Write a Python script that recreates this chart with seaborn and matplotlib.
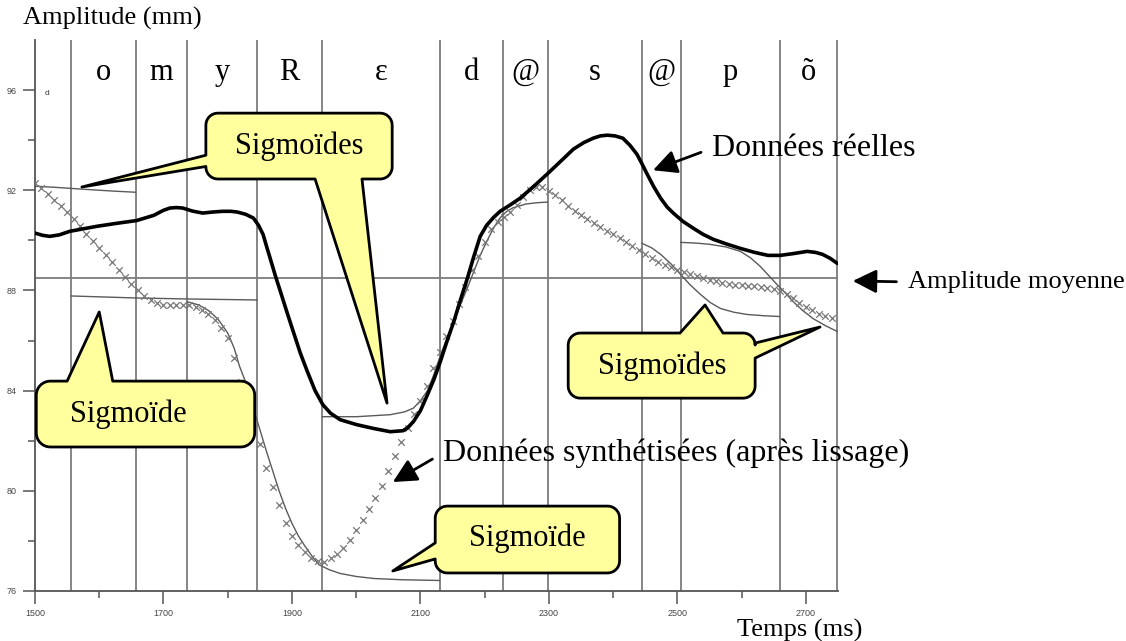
import numpy as np
import matplotlib
matplotlib.use("Agg")
import matplotlib.pyplot as plt
import seaborn as sns
from matplotlib.patches import Polygon
from matplotlib.transforms import IdentityTransform

# ---------------------------------------------------------------- data
# phoneme segmentation (ms) and labels
boundaries = [1556, 1657, 1737, 1846, 1947, 2130, 2228, 2298, 2445, 2505, 2659, 2749]
phonemes = ["o", "m", "y", "R", "ɛ", "d", "@", "s", "@", "p", "õ"]

# measured amplitude (mm)
real_t = [1500, 1512, 1523, 1538, 1554, 1575, 1596, 1627, 1658, 1685, 1700, 1710,
          1720, 1730, 1745, 1761, 1776, 1792, 1805, 1815, 1828, 1840, 1848, 1855,
          1860, 1866, 1874, 1882, 1892, 1902, 1913, 1924, 1936, 1948, 1960, 1975,
          2001, 2027, 2053, 2073, 2080, 2089, 2100, 2111, 2121, 2131, 2141, 2152,
          2162, 2173, 2183, 2193, 2203, 2214, 2224, 2240, 2255, 2276, 2297, 2318,
          2338, 2354, 2369, 2380, 2391, 2403, 2415, 2426, 2437, 2445, 2453, 2463,
          2474, 2484, 2494, 2509, 2525, 2540, 2556, 2577, 2598, 2620, 2641, 2660,
          2680, 2702, 2715, 2726, 2738, 2749]
real_v = [90.29, 90.20, 90.16, 90.22, 90.36, 90.46, 90.56, 90.68, 90.79, 91.00, 91.20, 91.29,
          91.31, 91.29, 91.17, 91.09, 91.13, 91.16, 91.16, 91.13, 91.04, 90.89, 90.60, 90.24,
          89.80, 89.29, 88.60, 87.96, 87.15, 86.36, 85.50, 84.76, 84.00, 83.44, 83.10, 82.84,
          82.64, 82.49, 82.36, 82.40, 82.52, 82.76, 83.20, 83.84, 84.45, 85.16, 85.95, 86.76,
          87.60, 88.48, 89.35, 90.16, 90.60, 90.92, 91.16, 91.42, 91.68, 92.15, 92.64, 93.15,
          93.64, 93.90, 94.08, 94.17, 94.20, 94.17, 94.08, 93.80, 93.44, 93.05, 92.64, 92.15,
          91.68, 91.33, 91.08, 90.75, 90.48, 90.24, 90.04, 89.85, 89.68, 89.52, 89.40, 89.40,
          89.47, 89.56, 89.52, 89.44, 89.28, 89.08]

# synthesised amplitude after smoothing, one sample every 10 ms from 1500 ms
synth_start, synth_step = 1500, 10
synth_v = [92.30, 92.10, 91.85, 91.63, 91.38, 91.13, 90.87, 90.57, 90.27, 89.99,
           89.70, 89.41, 89.12, 88.82, 88.54, 88.26, 88.00, 87.78, 87.60, 87.50,
           87.43, 87.40, 87.41, 87.43, 87.42, 87.33, 87.22, 87.06, 86.82, 86.50,
           86.10, 85.30, 84.35, 83.50, 82.70, 81.85, 80.90, 80.15, 79.45, 78.70,
           78.20, 77.85, 77.55, 77.30, 77.18, 77.17, 77.30, 77.47, 77.73, 78.03,
           78.42, 78.84, 79.27, 79.70, 80.20, 80.80, 81.38, 81.96, 82.50, 83.05,
           83.60, 84.20, 84.90, 85.55, 86.20, 86.80, 87.45, 88.15, 88.80, 89.36,
           89.95, 90.45, 90.72, 90.94, 91.15, 91.42, 91.75, 92.00, 92.15, 92.12,
           91.98, 91.82, 91.60, 91.37, 91.18, 91.00, 90.84, 90.69, 90.54, 90.39,
           90.24, 90.09, 89.94, 89.78, 89.62, 89.46, 89.30, 89.15, 89.03, 88.92,
           88.82, 88.72, 88.64, 88.57, 88.50, 88.43, 88.36, 88.30, 88.26, 88.23,
           88.21, 88.18, 88.16, 88.14, 88.11, 88.06, 87.98, 87.85, 87.68, 87.50,
           87.34, 87.20, 87.06, 86.98, 86.92]
synth_t = synth_start + synth_step * np.arange(len(synth_v))

# individual sigmoid segments
sig1_t = [1500, 1530, 1576, 1620, 1657]
sig1_v = [92.16, 92.12, 92.04, 91.97, 91.92]
sig2_t = [1556, 1657, 1737, 1846]
sig2_v = [87.78, 87.70, 87.66, 87.62]
sig3_t = [1737, 1755, 1770, 1785, 1800, 1810, 1818, 1830, 1840, 1850, 1860, 1870,
          1880, 1890, 1900, 1910, 1920, 1931, 1942, 1958, 1975, 2000, 2027, 2070, 2130]
sig3_v = [87.55, 87.42, 87.20, 86.85, 86.30, 85.70, 85.00, 84.20, 83.30, 82.45, 81.60, 80.80,
          80.00, 79.30, 78.70, 78.20, 77.80, 77.40, 77.05, 76.85, 76.70, 76.58, 76.50, 76.45, 76.42]
sig4_t = [1947, 2001, 2053, 2075, 2089, 2100, 2111, 2121, 2131, 2152, 2173, 2193,
          2204, 2214, 2224, 2234, 2244, 2264, 2280, 2298]
sig4_v = [82.96, 82.96, 83.04, 83.15, 83.30, 83.60, 84.00, 84.65, 85.40, 86.80, 88.10, 89.40,
          90.00, 90.50, 90.90, 91.15, 91.30, 91.45, 91.50, 91.53]
sig5_t = [2445, 2460, 2474, 2490, 2505, 2520, 2536, 2551, 2567, 2588, 2609, 2635, 2659]
sig5_v = [89.88, 89.70, 89.44, 89.06, 88.64, 88.22, 87.84, 87.52, 87.28, 87.13, 87.04, 86.99, 86.96]
sig6_t = [2505, 2530, 2551, 2575, 2598, 2614, 2629, 2642, 2655, 2668, 2680, 2695, 2711, 2730, 2749]
sig6_v = [89.92, 89.89, 89.84, 89.74, 89.56, 89.30, 88.96, 88.60, 88.24, 87.90, 87.56, 87.20, 86.88, 86.60, 86.36]
sigmoids = [(sig1_t, sig1_v), (sig2_t, sig2_v), (sig3_t, sig3_v),
            (sig4_t, sig4_v), (sig5_t, sig5_v), (sig6_t, sig6_v)]

mean_amplitude = 88.5

x_major = [1500, 1700, 1900, 2100, 2300, 2500, 2700]
x_minor = [1600, 1800, 2000, 2200, 2400, 2600]
y_major = [76, 80, 84, 88, 92, 96]
y_minor = [78, 82, 86, 90, 94]

# ---------------------------------------------------------------- style
sns.set_style("white")
plt.rcParams["font.family"] = ["Liberation Serif", "DejaVu Serif"]
plt.rcParams["text.color"] = "black"

W, H = 1126, 641
fig = plt.figure(figsize=(W / 100, H / 100), dpi=100)
ax = fig.add_axes([35 / W, 1 - 591 / H, (838 - 35) / W, (591 - 40) / H])
ax.set_xlim(1500, 2750)
ax.set_ylim(76, 98)

grid_col = "#7c7c7c"
for b in boundaries:
    ax.axvline(b, color=grid_col, lw=1.3, zorder=1)
ax.axhline(mean_amplitude, color=grid_col, lw=1.3, zorder=1)

for i, ph in enumerate(phonemes):
    mid = (boundaries[i] + boundaries[i + 1]) / 2
    ax.text(mid, 96.7, ph, ha="center", va="center", fontsize=22, zorder=3)
ax.text(1519, 95.88, "d", fontsize=6, family="Liberation Sans", color="#333333",
        ha="center", va="center")

for st, sv in sigmoids:
    sns.lineplot(x=st, y=sv, color="#5a5a5a", lw=1.0, ax=ax, zorder=2)

sns.scatterplot(x=synth_t, y=synth_v, marker="x", color="#777777", s=22,
                linewidth=0.9, ax=ax, zorder=3)
sns.lineplot(x=real_t, y=real_v, color="black", lw=2.6, ax=ax, zorder=4,
             solid_joinstyle="round")

ax.set_xlabel("")
ax.set_ylabel("")
ax.set_xticks(x_major)
ax.set_xticks(x_minor, minor=True)
ax.set_yticks(y_major)
ax.set_yticks(y_minor, minor=True)
ax.tick_params(which="major", direction="out", length=9, width=1.1, color="#555555",
               labelsize=6.5, labelcolor="#444444", pad=4, left=True, bottom=True)
ax.tick_params(which="minor", direction="out", length=5, width=1.1, color="#555555",
               left=True, bottom=True)
for lbl in ax.get_xticklabels() + ax.get_yticklabels():
    lbl.set_family("Liberation Sans")
for s in ["top", "right"]:
    ax.spines[s].set_visible(False)
for s in ["left", "bottom"]:
    ax.spines[s].set_color("#555555")
    ax.spines[s].set_linewidth(1.3)

fig.text(23 / W, 1 - 18 / H, "Amplitude (mm)", fontsize=19, ha="left", va="center")
fig.text(800 / W, 1 - 630 / H, "Temps (ms)", fontsize=19, ha="center", va="center")

# ---------------------------------------------------------------- annotations
arrow = dict(arrowstyle="-|>", color="black", lw=2.0, mutation_scale=36,
             shrinkA=6, shrinkB=0, relpos=(0, 0.5))
ax.annotate("Données réelles", xy=(2462, 92.8), xytext=(2554, 93.68),
            fontsize=23, ha="left", va="center", arrowprops=arrow, zorder=6)
ax.annotate("Données synthétisées (après lissage)", xy=(2057, 80.35),
            xytext=(2135, 81.51), fontsize=23, ha="left", va="center",
            arrowprops=arrow, zorder=6)
ax.annotate("Amplitude moyenne", xy=(2773, 88.38), xytext=(2859, 88.34),
            fontsize=19, ha="left", va="center", arrowprops=arrow,
            annotation_clip=False, zorder=6)

# ---------------------------------------------------------------- callouts
def to_px(t, v):
    return ax.transData.transform((t, v))


def arc(cx, cy, r, a0, a1, n=10):
    a = np.radians(np.linspace(a0, a1, n))
    return list(zip(cx + r * np.cos(a), cy + r * np.sin(a)))


def callout(box, wedges, label, text_at, r=12):
    (x0, y0), (x1, y1) = to_px(box[0], box[1]), to_px(box[2], box[3])
    side = {"bottom": [], "right": [], "top": [], "left": []}
    for s, a, b, tip in wedges:
        tp = to_px(*tip)
        if s in ("bottom", "top"):
            pa, pb = to_px(a, box[1])[0], to_px(b, box[1])[0]
        else:
            pa, pb = to_px(box[0], a)[1], to_px(box[0], b)[1]
        side[s].append((min(pa, pb), max(pa, pb), tuple(tp)))
    v = []
    v += arc(x0 + r, y0 + r, r, 180, 270)
    for p, q, tp in sorted(side["bottom"]):
        v += [(p, y0), tp, (q, y0)]
    v += arc(x1 - r, y0 + r, r, 270, 360)
    for p, q, tp in sorted(side["right"]):
        v += [(x1, p), tp, (x1, q)]
    v += arc(x1 - r, y1 - r, r, 0, 90)
    for p, q, tp in sorted(side["top"], reverse=True):
        v += [(q, y1), tp, (p, y1)]
    v += arc(x0 + r, y1 - r, r, 90, 180)
    for p, q, tp in sorted(side["left"], reverse=True):
        v += [(x0, q), tp, (x0, p)]
    poly = Polygon(v, closed=True, facecolor="#FFFF9E", edgecolor="black", lw=2.0,
                   joinstyle="round", transform=IdentityTransform(), zorder=5)
    fig.add_artist(poly)
    fig.text(text_at[0], text_at[1], label, transform=ax.transData, fontsize=22,
             ha="center", va="center", zorder=6)


callout((1766, 92.45, 2056, 95.08),
        [("left", 92.95, 93.40, (1573, 92.13)),
         ("bottom", 1936, 2009, (2048, 83.5))],
        "Sigmoïdes", (1911, 93.76))
callout((1502, 81.75, 1842, 84.38),
        [("top", 1550, 1621, (1600, 87.14))],
        "Sigmoïde", (1645, 83.07), r=14)
callout((2123, 76.72, 2410, 79.39),
        [("left", 77.28, 77.92, (2057, 76.8))],
        "Sigmoïde", (2266, 78.12))
callout((2330, 83.70, 2621, 86.30),
        [("top", 2504, 2571, (2543, 87.42)),
         ("right", 85.30, 85.90, (2722, 86.54))],
        "Sigmoïdes", (2476, 84.98))

fig.savefig("out.png", dpi=100)
